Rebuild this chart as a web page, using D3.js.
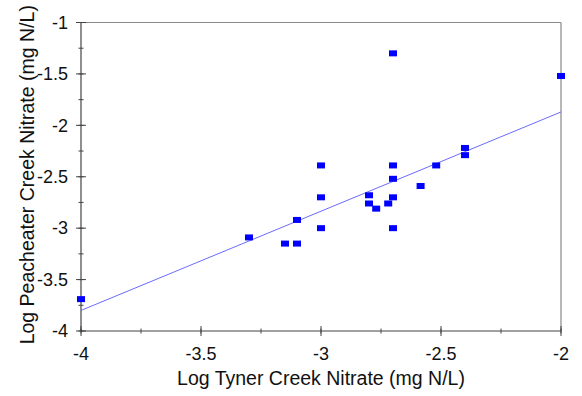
<!DOCTYPE html>
<html><head><meta charset="utf-8">
<script src="https://cdnjs.cloudflare.com/ajax/libs/d3/7.8.5/d3.min.js"></script>
<style>body{margin:0;background:#fff}svg{display:block}text{font-family:"Liberation Sans",Arial,sans-serif;fill:#111}</style>
</head><body><svg id="c" width="582" height="396"></svg>
<script>
const xValues = [-4.0, -3.3, -3.15, -3.1, -3.1, -3.0, -3.0, -3.0, -2.8, -2.8, -2.77, -2.72, -2.7, -2.7, -2.7, -2.7, -2.7, -2.585, -2.52, -2.4, -2.4, -2.0];
const yValues = [-3.69, -3.09, -3.15, -3.15, -2.92, -2.39, -2.7, -3.0, -2.68, -2.76, -2.81, -2.76, -2.7, -2.52, -2.39, -3.0, -1.3, -2.59, -2.39, -2.22, -2.29, -1.52];
const fitX = [-4, -2];
const fitY = [-3.80, -1.87];
const xTicks = [-4, -3.5, -3, -2.5, -2];
const yTicks = [-4, -3.5, -3, -2.5, -2, -1.5, -1];
const xLabel = "Log Tyner Creek Nitrate (mg N/L)";
const yLabel = "Log Peacheater Creek Nitrate (mg N/L)";

const svg = d3.select("#c");
const L = 81, R = 561, T = 22.5, B = 331;
const x = d3.scaleLinear().domain([-4, -2]).range([L, R]);
const y = d3.scaleLinear().domain([-4, -1]).range([B, T]);

// frame top & right
svg.append("line").attr("x1", L).attr("x2", R).attr("y1", T).attr("y2", T).attr("stroke", "#888").attr("stroke-width", 1.2);
svg.append("line").attr("x1", R).attr("x2", R).attr("y1", T).attr("y2", B).attr("stroke", "#888").attr("stroke-width", 1.2);

const axCol = "#444";
// y axis
svg.append("line").attr("x1", L).attr("x2", L).attr("y1", T).attr("y2", B).attr("stroke", axCol).attr("stroke-width", 1.2);
const yMinor = d3.range(-4, -0.99, 0.25);
svg.selectAll(".ymn").data(yMinor).join("line").attr("x1", L - 2.5).attr("x2", L + 2.5).attr("y1", d => y(d)).attr("y2", d => y(d)).attr("stroke", axCol);
svg.selectAll(".ymj").data(yTicks).join("line").attr("x1", L - 5).attr("x2", L + 5).attr("y1", d => y(d)).attr("y2", d => y(d)).attr("stroke", axCol);
svg.selectAll(".ylab").data(yTicks).join("text").attr("x", 68).attr("y", d => y(d)).attr("dy", "0.35em").attr("text-anchor", "end").attr("font-size", 18).text(d => String(d));

// x axis
svg.append("line").attr("x1", L).attr("x2", R).attr("y1", B).attr("y2", B).attr("stroke", axCol).attr("stroke-width", 1.2);
const xMinor = d3.range(-4, -1.99, 0.25);
svg.selectAll(".xmn").data(xMinor).join("line").attr("x1", d => x(d)).attr("x2", d => x(d)).attr("y1", B - 2.5).attr("y2", B + 2.5).attr("stroke", axCol);
svg.selectAll(".xmj").data(xTicks).join("line").attr("x1", d => x(d)).attr("x2", d => x(d)).attr("y1", B - 5).attr("y2", B + 5).attr("stroke", axCol);
svg.selectAll(".xlab").data(xTicks).join("text").attr("x", d => x(d)).attr("y", 360).attr("text-anchor", "middle").attr("font-size", 18).text(d => String(d));

svg.append("text").attr("x", 321).attr("y", 385).attr("text-anchor", "middle").attr("font-size", 19.5).text(xLabel);
svg.append("text").attr("transform", `translate(34,${(T + B) / 2 - 2}) rotate(-90)`).attr("text-anchor", "middle").attr("font-size", 19.5).text(yLabel);

// fit line
svg.append("line").attr("x1", x(fitX[0])).attr("y1", y(fitY[0])).attr("x2", x(fitX[1])).attr("y2", y(fitY[1])).attr("stroke", "#6b6bff").attr("stroke-width", 1);

// points
const pts = xValues.map((v, i) => [v, yValues[i]]);
svg.selectAll(".pt").data(pts).join("rect").attr("x", d => x(d[0]) - 4).attr("y", d => y(d[1]) - 3).attr("width", 8).attr("height", 6).attr("fill", "#0000ff");
</script></body></html>
